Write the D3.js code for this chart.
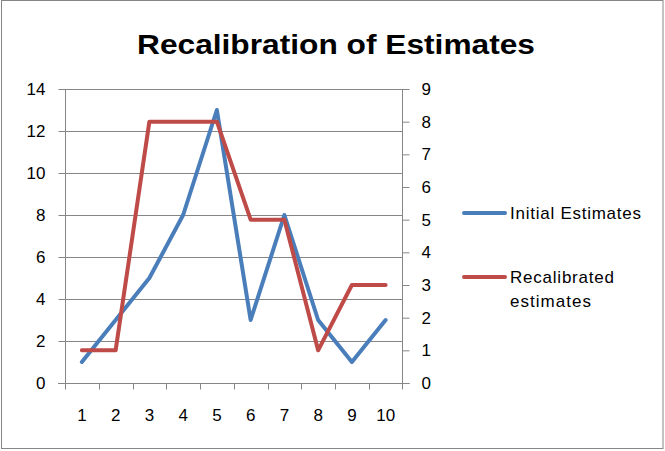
<!DOCTYPE html>
<html><head><meta charset="utf-8">
<script src="https://cdn.jsdelivr.net/npm/d3@7"></script>
<style>body{margin:0;background:#fff}svg{display:block}</style>
</head><body>
<script>
const categories = ["1","2","3","4","5","6","7","8","9","10"];
const initialEstimates = [1,3,5,8,13,3,8,3,1,3];
const recalibratedEstimates = [1,1,8,8,8,5,5,1,3,3];
const leftTicks = [0,2,4,6,8,10,12,14];
const rightTicks = [0,1,2,3,4,5,6,7,8,9];
const seriesNames = ["Initial Estimates", "Recalibrated estimates"];

const W = 665, H = 451;
const svg = d3.select("body").append("svg").attr("width", W).attr("height", H);
svg.append("rect").attr("x",1.5).attr("y",0.5).attr("width",661.5).attr("height",448)
  .attr("fill","#fff").attr("stroke","#868686").attr("stroke-width",1);

const L = 65, R = 402.5, T = 89, B = 383;
const font = "'Liberation Sans', Arial, sans-serif";
const x = d3.scaleBand().domain(categories).range([L, R]);
const yL = d3.scaleLinear().domain([0,14]).range([B, T]);
const yR = d3.scaleLinear().domain([0,9]).range([B, T]);
const grey = "#868686";

// gridlines
svg.append("g").selectAll("line").data(leftTicks.filter(d=>d>0)).join("line")
  .attr("x1", L).attr("x2", R).attr("y1", d=>Math.round(yL(d))+0.5).attr("y2", d=>Math.round(yL(d))+0.5)
  .attr("stroke", grey);

// left axis
const gl = svg.append("g").attr("transform", `translate(${L+0.5},0)`)
  .call(d3.axisLeft(yL).tickValues(leftTicks).tickSize(7).tickPadding(13).tickFormat(d3.format("d")));
// right axis
const gr = svg.append("g").attr("transform", `translate(${R},0)`)
  .call(d3.axisRight(yR).tickValues(rightTicks).tickSize(7).tickPadding(12).tickFormat(d3.format("d")));
// bottom axis
const gb = svg.append("g").attr("transform", `translate(0,${B+0.5})`)
  .call(d3.axisBottom(x).tickSize(0).tickPadding(25));
gb.append("g").selectAll("line").data(categories.concat(["__end"])).join("line")
  .attr("x1", (d,i)=> i<categories.length ? Math.round(x(d))+0.5 : R)
  .attr("x2", (d,i)=> i<categories.length ? Math.round(x(d))+0.5 : R)
  .attr("y1", 0).attr("y2", 6).attr("stroke", grey);
[gl, gr, gb].forEach(g => {
  g.selectAll(".tick line").attr("stroke", grey);
  g.selectAll("text").attr("font-family", font).attr("font-size", 17).attr("fill", "#000");
});
gl.select(".domain").remove(); gr.select(".domain").remove(); gb.select(".domain").remove();
svg.append("line").attr("x1", L+0.5).attr("x2", L+0.5).attr("y1", T).attr("y2", B+1).attr("stroke", grey);
svg.append("line").attr("x1", R).attr("x2", R).attr("y1", T).attr("y2", B+1).attr("stroke", grey);
svg.append("line").attr("x1", L-7).attr("x2", R+7).attr("y1", B+0.5).attr("y2", B+0.5).attr("stroke", grey);

const cx = d => x(d) + x.bandwidth()/2;
const lineL = d3.line().x((d,i)=>cx(categories[i])).y(d=>yL(d));
const lineR = d3.line().x((d,i)=>cx(categories[i])).y(d=>yR(d));
const blue = "#4A7EBB", red = "#BE4B48";
svg.append("path").attr("d", lineL(initialEstimates)).attr("fill","none").attr("stroke", blue)
  .attr("stroke-width", 4).attr("stroke-linejoin","round").attr("stroke-linecap","round");
svg.append("path").attr("d", lineR(recalibratedEstimates)).attr("fill","none").attr("stroke", red)
  .attr("stroke-width", 4).attr("stroke-linejoin","round").attr("stroke-linecap","round");

// title
svg.append("text").attr("x", 336).attr("y", 54).attr("text-anchor","middle")
  .attr("font-family", font).attr("font-weight","bold").attr("font-size", 28)
  .attr("textLength", 398).attr("lengthAdjust","spacingAndGlyphs")
  .text("Recalibration of Estimates");

// legend
const leg = svg.append("g");
leg.append("line").attr("x1",464).attr("x2",505).attr("y1",213).attr("y2",213)
  .attr("stroke", blue).attr("stroke-width",4).attr("stroke-linecap","round");
leg.append("text").attr("x",510).attr("y",219).attr("font-family",font).attr("font-size",17)
  .attr("textLength",131).attr("lengthAdjust","spacing").text(seriesNames[0]);
leg.append("line").attr("x1",464).attr("x2",505).attr("y1",277).attr("y2",277)
  .attr("stroke", red).attr("stroke-width",4).attr("stroke-linecap","round");
const words = seriesNames[1].split(" ");
leg.append("text").attr("x",510).attr("y",283).attr("font-family",font).attr("font-size",17)
  .attr("textLength",104).attr("lengthAdjust","spacing").text(words[0]);
leg.append("text").attr("x",510).attr("y",307).attr("font-family",font).attr("font-size",17)
  .attr("textLength",81).attr("lengthAdjust","spacing").text(words[1]);
</script>
</body></html>
